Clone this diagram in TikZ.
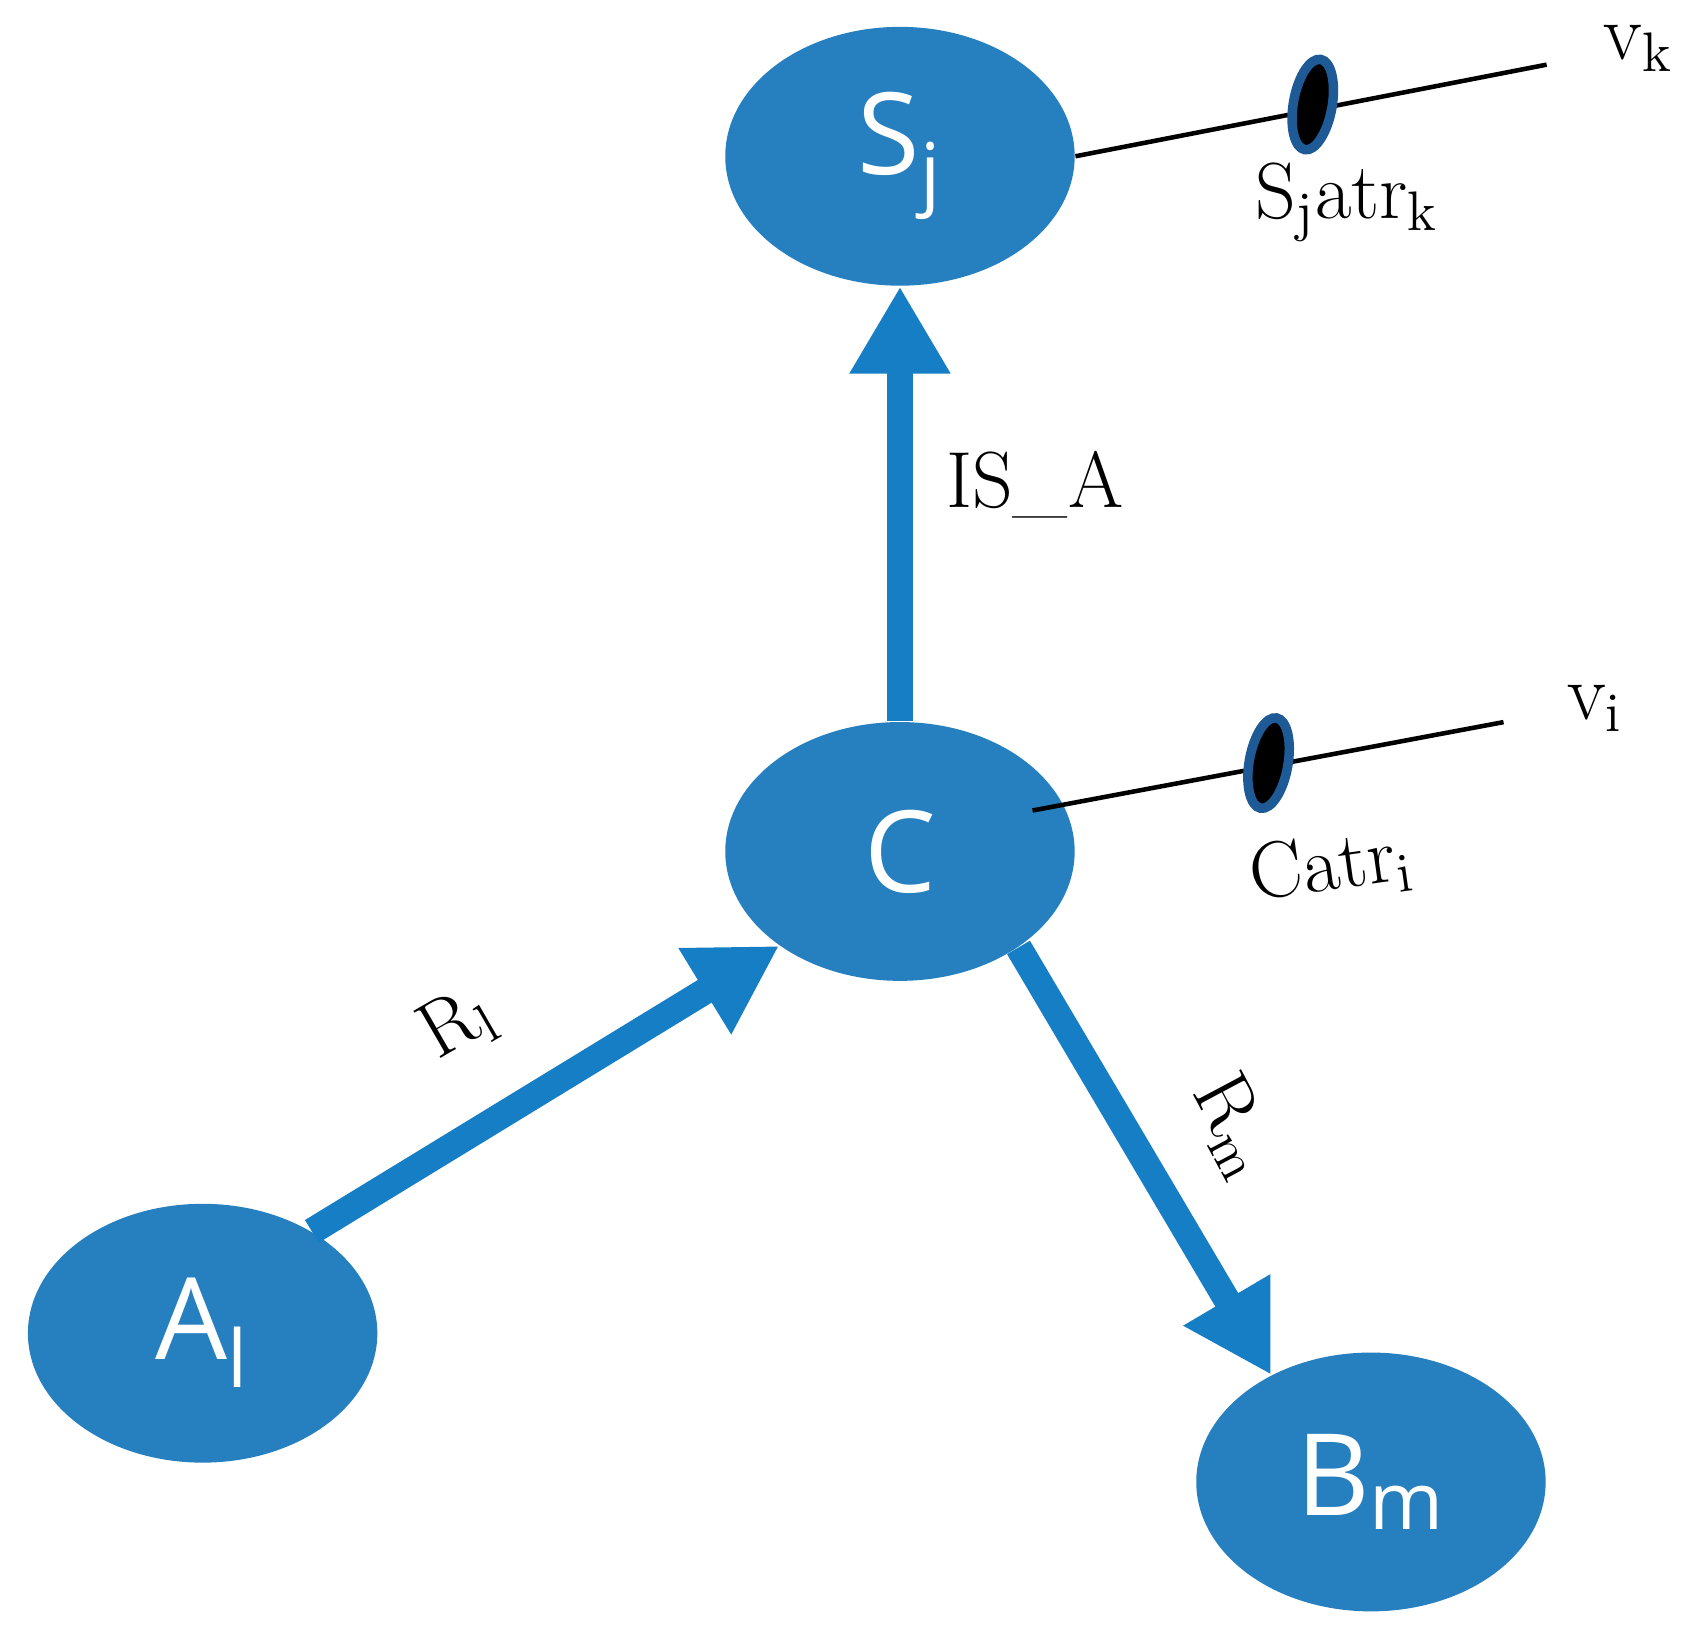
\documentclass[tikz,border=0pt]{standalone}
\usepackage{fontspec}
\newfontfamily\nodefont{Open Sans}
\usetikzlibrary{arrows.meta,shapes.geometric}
\definecolor{nodeblue}{RGB}{38,128,192}
\definecolor{arrowblue}{RGB}{22,126,196}
\definecolor{markblue}{RGB}{30,90,150}
\tikzset{
  concept/.style={ellipse, fill=nodeblue, minimum width=3.24cm, minimum height=2.4cm,
    text=white, font=\nodefont\fontsize{30}{34}\selectfont, inner sep=0pt},
  rel/.style={draw=arrowblue, line width=7pt, -{Triangle[length=23pt, width=25pt]}},
  attr/.style={draw=black, line width=1.2pt},
  marker/.style={ellipse, fill=black, draw=markblue, line width=2.5pt,
    minimum width=0.36cm, minimum height=0.85cm, inner sep=0pt, rotate=-10},
  lbl/.style={font=\fontsize{21}{24}\selectfont}
}
\begin{document}
\begin{tikzpicture}[x=0.01cm, y=-0.01cm]
  \useasboundingbox (0,0) rectangle (1568,1525);
  % --- concepts ---
  \node[concept] (S) at (835,145) {S\textsubscript{j}};
  \node[concept] (C) at (835,790) {C};
  \node[concept] (A) at (188,1237) {A\textsubscript{l}};
  \node[concept] (B) at (1272,1375) {B\textsubscript{m}};

  % --- relations ---
  \draw[rel] (C.north) -- (S.south);
  \draw[rel] (A.43) -- (C.218);
  \draw[rel] (C.-39) -- (B.133);
  \node[lbl] (isa) at (960,450) {IS\_A};
  \node[lbl, rotate=30] (rl) at (425,950) {$\mathrm{R_l}$};
  \node[lbl, rotate=-62] (rm) at (1145,1045) {$\mathrm{R_m}$};

  % --- attributes ---
  \coordinate (vkend) at (1435,60);
  \coordinate (cs) at (958,752);
  \coordinate (viend) at (1395,670);
  \draw[attr] (S.east) -- (vkend);
  \draw[attr] (cs) -- (viend);
  \node[marker] (mk) at (1218,97) {};
  \node[marker] (mi) at (1177,708) {};
  \node[lbl] (satr) at (1250,188) {$\mathrm{S_jatr_k}$};
  \node[lbl, rotate=8] (catr) at (1235,805) {$\mathrm{Catr_i}$};
  \node[lbl] (vk) at (1520,45) {$\mathrm{v_k}$};
  \node[lbl] (vi) at (1480,657) {$\mathrm{v_i}$};
\end{tikzpicture}
\end{document}
